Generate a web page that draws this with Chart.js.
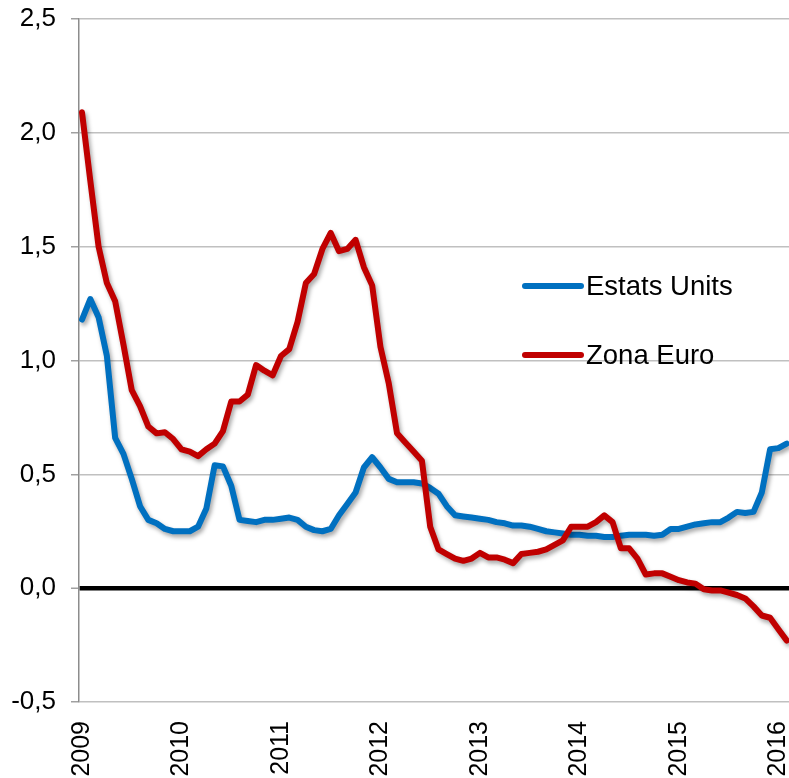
<!DOCTYPE html>
<html>
<head>
<meta charset="utf-8">
<script src="https://cdn.jsdelivr.net/npm/chart.js@4.4.1/dist/chart.umd.min.js"></script>
<style>
  html, body { margin: 0; padding: 0; background: #fff; }
  #wrap { width: 789px; height: 778px; position: relative; }
</style>
</head>
<body>
<div id="wrap"><canvas id="c" width="789" height="778"></canvas></div>
<script>
// Year tick labels (one per January, starting Jan 2009)
const yearLabels = ['2009', '2010', '2011', '2012', '2013', '2014', '2015', '2016'];
// Series names
const seriesNames = ['Estats Units', 'Zona Euro'];
// Monthly values, Jan 2009 – Feb 2016
const estatsUnits = [
  1.18, 1.27, 1.19, 1.02, 0.66, 0.59, 0.48, 0.36, 0.30, 0.285, 0.26, 0.25,
  0.25, 0.25, 0.27, 0.35, 0.54, 0.535, 0.45, 0.30, 0.295, 0.29, 0.30, 0.30,
  0.305, 0.31, 0.30, 0.27, 0.255, 0.25, 0.26, 0.32, 0.37, 0.42, 0.53, 0.575,
  0.53, 0.48, 0.465, 0.465, 0.465, 0.46, 0.44, 0.415, 0.36, 0.32, 0.315, 0.31,
  0.305, 0.30, 0.29, 0.285, 0.275, 0.275, 0.27, 0.26, 0.25, 0.245, 0.24, 0.235,
  0.235, 0.23, 0.23, 0.225, 0.225, 0.23, 0.235, 0.235, 0.235, 0.23, 0.235, 0.26,
  0.26, 0.27, 0.28, 0.285, 0.29, 0.29, 0.31, 0.335, 0.33, 0.335, 0.42, 0.61,
  0.615, 0.635
];
const zonaEuro = [
  2.09, 1.79, 1.50, 1.34, 1.26, 1.07, 0.87, 0.80, 0.71, 0.68, 0.685, 0.655,
  0.61, 0.60, 0.58, 0.61, 0.635, 0.69, 0.82, 0.82, 0.85, 0.98, 0.955, 0.935,
  1.02, 1.05, 1.17, 1.34, 1.38, 1.49, 1.56, 1.48, 1.49, 1.53, 1.41, 1.33,
  1.06, 0.90, 0.68, 0.64, 0.60, 0.56, 0.27, 0.17, 0.15, 0.13, 0.12, 0.13,
  0.155, 0.135, 0.135, 0.125, 0.11, 0.15, 0.155, 0.16, 0.17, 0.19, 0.21, 0.27,
  0.27, 0.27, 0.29, 0.32, 0.29, 0.175, 0.175, 0.13, 0.06, 0.065, 0.065, 0.05,
  0.035, 0.025, 0.02, -0.005, -0.01, -0.01, -0.02, -0.03, -0.045, -0.08, -0.12, -0.13,
  -0.18, -0.23
];

const FONT = "'Liberation Sans', Arial, sans-serif";
const toXY = arr => arr.map((v, i) => ({ x: i, y: v }));

const shadowPlugin = {
  id: 'lineShadow',
  beforeDatasetDraw(chart) {
    const ctx = chart.ctx;
    ctx.save();
    ctx.shadowColor = 'rgba(0,0,0,0.35)';
    ctx.shadowBlur = 4;
    ctx.shadowOffsetX = 2;
    ctx.shadowOffsetY = 3;
  },
  afterDatasetDraw(chart) {
    chart.ctx.restore();
  }
};

const legendPlugin = {
  id: 'insideLegend',
  afterDraw(chart, args, opts) {
    const ctx = chart.ctx;
    ctx.save();
    const items = [
      { ds: chart.data.datasets.find(d => d.label === seriesNames[0]), y: opts.y0 },
      { ds: chart.data.datasets.find(d => d.label === seriesNames[1]), y: opts.y1 }
    ];
    items.forEach(it => {
      ctx.strokeStyle = it.ds.borderColor;
      ctx.lineWidth = 6;
      ctx.lineCap = 'round';
      ctx.beginPath();
      ctx.moveTo(opts.x0, it.y);
      ctx.lineTo(opts.x1, it.y);
      ctx.stroke();
      ctx.fillStyle = '#000';
      ctx.font = opts.font;
      ctx.textBaseline = 'middle';
      ctx.textAlign = 'left';
      ctx.fillText(it.ds.label, opts.tx, it.y + 1);
    });
    ctx.restore();
  }
};

new Chart(document.getElementById('c'), {
  type: 'line',
  data: {
    datasets: [
      {
        label: seriesNames[0],
        data: toXY(estatsUnits),
        borderColor: '#0070C0',
        borderWidth: 6,
        pointRadius: 0,
        tension: 0,
        borderJoinStyle: 'round',
        borderCapStyle: 'round',
        order: 1
      },
      {
        label: seriesNames[1],
        data: toXY(zonaEuro),
        borderColor: '#C00000',
        borderWidth: 6,
        pointRadius: 0,
        tension: 0,
        borderJoinStyle: 'round',
        borderCapStyle: 'round',
        order: 0
      }
    ]
  },
  options: {
    responsive: false,
    animation: false,
    devicePixelRatio: 1,
    layout: { padding: { top: 19, right: 0, bottom: 0, left: 0 } },
    plugins: {
      legend: { display: false },
      tooltip: { enabled: false },
      insideLegend: { x0: 525, x1: 581, tx: 586, y0: 286, y1: 355, font: '27.5px ' + FONT }
    },
    scales: {
      x: {
        type: 'linear',
        min: -0.362,
        max: 85.28,
        grid: { display: false, drawTicks: false },
        border: { display: false },
        afterBuildTicks(scale) {
          scale.ticks = yearLabels.map((_, k) => ({ value: k * 12 }));
        },
        afterFit(scale) {
          scale.height = 76;
          scale.paddingLeft = 0;
          scale.paddingRight = 0;
        },
        ticks: {
          autoSkip: false,
          minRotation: 90,
          maxRotation: 90,
          padding: 19,
          color: '#000',
          font: { family: FONT, size: 25 },
          callback: (v) => yearLabels[Math.round(v / 12)]
        }
      },
      y: {
        min: -0.5,
        max: 2.5,
        grid: {
          color: (c) => (c.tick && c.tick.value === 0) ? '#000000' : '#C0C0C0',
          lineWidth: (c) => (c.tick && c.tick.value === 0) ? 4.5 : 1.5,
          tickColor: '#A0A0A0',
          tickWidth: 1.5,
          tickLength: 8
        },
        border: { display: true, color: '#8C8C8C', width: 1.5 },
        afterFit(scale) {
          scale.width = 79;
          scale.paddingTop = 0;
          scale.paddingBottom = 0;
        },
        ticks: {
          stepSize: 0.5,
          padding: 15,
          color: '#000',
          font: { family: FONT, size: 26 },
          callback: (v) => v.toFixed(1).replace('.', ',')
        }
      }
    }
  },
  plugins: [shadowPlugin, legendPlugin]
});
</script>
</body>
</html>
